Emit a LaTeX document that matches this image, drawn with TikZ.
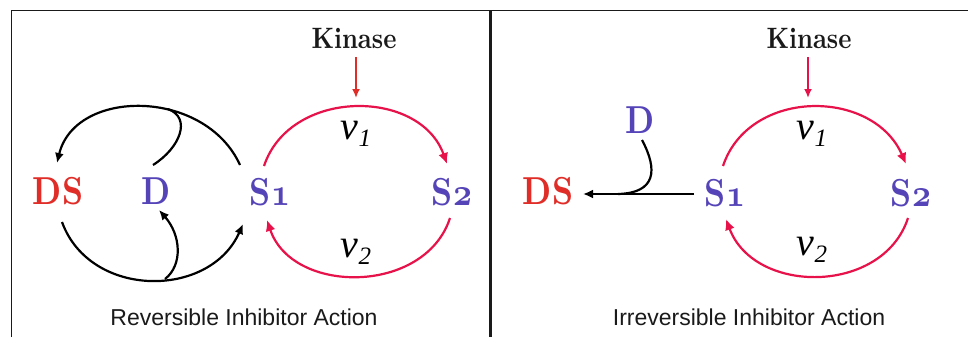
\documentclass[tikz,border=0pt]{standalone}
\usepackage{fontspec}
\newfontfamily\capfont{Liberation Sans}
\newfontfamily\vfont{Liberation Serif}
\usetikzlibrary{arrows.meta}
\definecolor{dsred}{HTML}{E02D28}
\definecolor{spurple}{HTML}{5544B8}
\definecolor{crim}{HTML}{E8124A}
\definecolor{ink}{HTML}{1A1A1A}
\newcommand\spc[1]{\scalebox{3.3}[3.9]{\fontsize{10}{12}\selectfont\bfseries #1}}
\newcommand\kintxt[1]{\scalebox{2.5}[2.95]{\fontsize{10}{12}\selectfont\bfseries #1}}
\newcommand\osn[1]{{\usefont{OML}{cmm}{b}{it}#1}}
\newcommand\vlab[1]{{\vfont\itshape\fontsize{40}{44}\selectfont v\raisebox{-7pt}{\fontsize{25}{28}\selectfont #1}}}
\begin{document}
\begin{tikzpicture}[x=1pt,y=-1pt,
  species/.style={inner sep=0pt},
  kin/.style={inner sep=0pt,text=ink},
  vtext/.style={inner sep=0pt},
  captext/.style={inner sep=0pt,text=ink,font=\capfont\fontsize{23}{26}\selectfont},
  blk/.style={line width=2.2pt,draw=black},
  red/.style={line width=2.2pt,draw=crim},
  tipb/.style={-{Latex[length=10pt,width=9pt]}},
  tipr/.style={-{Latex[length=11pt,width=10pt]},crim},
  frame/.style={draw=ink}
]
\useasboundingbox (0,0) rectangle (968,337);
\fill[white] (0,0) rectangle (968,337);
% frame
\coordinate (ftl) at (11.5,10.5);
\coordinate (ftr) at (968,10.5);
\coordinate (fbl) at (11.5,337);
\coordinate (dtop) at (490.5,10.5);
\coordinate (dbot) at (490.5,337);
\draw[frame,line width=1.5pt] (fbl) -- (ftl) -- (ftr);
\draw[frame,line width=2.2pt] (dtop) -- (dbot);

% ===== left panel =====
\node[kin] (kinL) at (354,38) {\kintxt{Kinase}};
\node[species,text=dsred] (dsL) at (58,191) {\spc{DS}};
\node[species,text=spurple] (dL) at (156,191) {\spc{D}};
\node[species,text=spurple] (s1L) at (270,192) {\spc{S\osn{1}}};
\node[species,text=spurple] (s2L) at (452,192) {\spc{S\osn{2}}};
\node[vtext] (v1L) at (356,134) {\vlab{1}};
\node[vtext] (v2L) at (356,252) {\vlab{2}};
\node[captext] (capL) at (244,317) {Reversible Inhibitor Action};

\coordinate (kaL1) at (356,57);
\coordinate (kaL2) at (356,98);
\draw[line width=2pt,draw=dsred,-{Latex[length=9pt,width=8pt]},dsred] (kaL1) -- (kaL2);

\coordinate (s1Lu) at (264,166);
\coordinate (s2Lu) at (447,164);
\coordinate (s2Ld) at (450,218);
\coordinate (s1Ld) at (267,220);
\draw[red,tipr] (s1Lu) .. controls (290,88) and (420,88) .. (s2Lu);
\draw[red,tipr] (s2Ld) .. controls (425,295) and (292,295) .. (s1Ld);

\coordinate (s1Lb) at (240,165);
\coordinate (dsLu) at (57,163);
\coordinate (dLu) at (153,165);
\coordinate (mergeU) at (168,109);
\coordinate (dsLd) at (62,222);
\coordinate (s1Lbd) at (243,224);
\coordinate (mergeD) at (165,279);
\coordinate (dLd) at (159,210);
\draw[blk,tipb] (s1Lb) .. controls (205,88) and (75,88) .. (dsLu);
\draw[blk] (dLu) .. controls (180,148) and (192,118) .. (mergeU);
\draw[blk,tipb] (dsLd) .. controls (90,299) and (210,299) .. (s1Lbd);
\draw[blk,tipb] (mergeD) .. controls (183,265) and (181,235) .. (dLd);

% ===== right panel =====
\node[kin] (kinR) at (809,38) {\kintxt{Kinase}};
\node[species,text=dsred] (dsR) at (548,191) {\spc{DS}};
\node[species,text=spurple] (dR) at (640,120) {\spc{D}};
\node[species,text=spurple] (s1R) at (725,193) {\spc{S\osn{1}}};
\node[species,text=spurple] (s2R) at (911,193) {\spc{S\osn{2}}};
\node[vtext] (v1R) at (812,134) {\vlab{1}};
\node[vtext] (v2R) at (812,250) {\vlab{2}};
\node[captext] (capR) at (749,317) {Irreversible Inhibitor Action};

\coordinate (kaR1) at (808,57);
\coordinate (kaR2) at (808,98);
\draw[line width=2pt,draw=crim,-{Latex[length=9pt,width=8pt]},crim] (kaR1) -- (kaR2);

\coordinate (s1Ru) at (723,166);
\coordinate (s2Ru) at (906,164);
\coordinate (s2Rd) at (908,218);
\coordinate (s1Rd) at (726,219);
\draw[red,tipr] (s1Ru) .. controls (749,88) and (873,88) .. (s2Ru);
\draw[red,tipr] (s2Rd) .. controls (883,295) and (754,295) .. (s1Rd);

\coordinate (s1Rl) at (694,194);
\coordinate (dsRr) at (583,194);
\coordinate (dRd) at (642,140);
\coordinate (mergeR) at (618,194);
\draw[blk,tipb] (s1Rl) -- (dsRr);
\draw[blk] (dRd) .. controls (658,170) and (656,193) .. (mergeR);
\end{tikzpicture}
\end{document}
